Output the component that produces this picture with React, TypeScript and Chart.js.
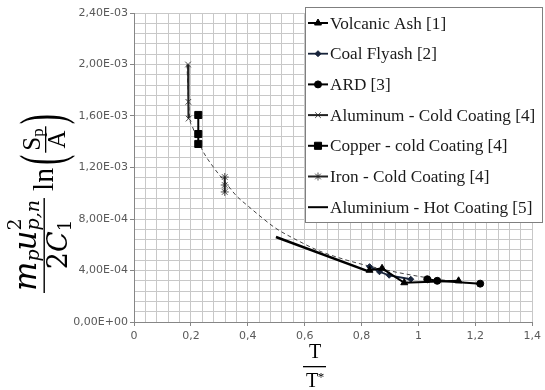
import React, { useEffect, useRef } from 'react';
import { Chart, registerables } from 'chart.js';
import { drawPoint } from 'chart.js/helpers';

Chart.register(...registerables);

// ---- data ----
const volcanicX = [0.828, 0.872, 0.950, 1.141];
const volcanicY = [4.02e-4, 4.17e-4, 3.05e-4, 3.2e-4];

const coalX = [0.828, 0.863, 0.897, 0.973];
const coalY = [4.3e-4, 3.9e-4, 3.63e-4, 3.32e-4];

const ardX = [1.031, 1.066, 1.217];
const ardY = [3.32e-4, 3.2e-4, 2.98e-4];

const alColdX = [0.190, 0.191, 0.192];
const alColdY = [2.0e-3, 1.71e-3, 1.58e-3];

const cuColdX = [0.226, 0.226, 0.226];
const cuColdY = [1.608e-3, 1.46e-3, 1.383e-3];

const feColdX = [0.319, 0.319, 0.319];
const feColdY = [1.126e-3, 1.064e-3, 1.01e-3];

const alHotX = [0.499, 0.822];
const alHotY = [6.6e-4, 3.95e-4];

const fitX = [0.186, 0.19, 0.195, 0.205, 0.226, 0.24, 0.28, 0.323, 0.36, 0.404, 0.45, 0.497, 0.578, 0.648, 0.741, 0.82, 0.9, 1.0, 1.1, 1.22];
const fitY = [2.0e-3, 1.8e-3, 1.6e-3, 1.52e-3, 1.41e-3, 1.336e-3, 1.2e-3, 1.08e-3, 9.8e-4, 8.95e-4, 8.1e-4, 7.3e-4, 6.3e-4, 5.55e-4, 4.85e-4, 4.38e-4, 3.97e-4, 3.55e-4, 3.22e-4, 2.92e-4];

const seriesLabels = [
  'Volcanic Ash [1]',
  'Coal Flyash [2]',
  'ARD [3]',
  'Aluminum - Cold Coating [4]',
  'Copper - cold Coating [4]',
  'Iron - Cold Coating [4]',
  'Aluminium - Hot Coating [5]',
];

const xTickLabels = ['0', '0,2', '0,4', '0,6', '0,8', '1', '1,2', '1,4'];
const yTickLabels = ['0,00E+00', '4,00E-04', '8,00E-04', '1,20E-03', '1,60E-03', '2,00E-03', '2,40E-03'];

const X_MAJOR = 0.2;
const Y_MAJOR = 4e-4;

const pts = (xs: number[], ys: number[]) => xs.map((x, i) => ({ x, y: ys[i] }));
const majorIndex = (v: number, step: number) => {
  const r = v / step;
  const k = Math.round(r);
  return Math.abs(r - k) < 1e-6 ? k : -1;
};

const SERIF = '"Liberation Serif", "DejaVu Serif", serif';
const MATH = '"DejaVu Serif", serif';

const drawRot = (ctx: CanvasRenderingContext2D, text: string, font: string, y: number, x: number) => {
  ctx.save();
  ctx.font = font;
  const w = ctx.measureText(text).width;
  ctx.translate(x, y);
  ctx.rotate(-Math.PI / 2);
  ctx.textAlign = 'left';
  ctx.textBaseline = 'alphabetic';
  ctx.fillText(text, 0, 0);
  ctx.restore();
  return w;
};

const measure = (ctx: CanvasRenderingContext2D, text: string, font: string) => {
  ctx.save();
  ctx.font = font;
  const w = ctx.measureText(text).width;
  ctx.restore();
  return w;
};

const titlesPlugin = {
  id: 'titles',
  afterDraw(chart: any) {
    const ctx: CanvasRenderingContext2D = chart.ctx;
    ctx.save();
    ctx.fillStyle = '#000';
    const IT = (s: number) => `italic ${s}px ${MATH}`;
    const UPM = (s: number) => `${s}px ${MATH}`;
    const UP = (s: number) => `${s}px ${SERIF}`;
    const BAR = 44;
    // ---- y axis title (rotated) ----
    const y0 = 291;
    let y = y0;
    y -= drawRot(ctx, 'm', IT(31), y, 36);
    y -= drawRot(ctx, 'p', IT(19), y, 39) - 1;
    y -= drawRot(ctx, 'u', IT(31), y, 36);
    const wSup = drawRot(ctx, '2', UPM(19), y, 21);
    const wSub = drawRot(ctx, 'p,n', IT(19), y, 39);
    y -= Math.max(wSup, wSub);
    const numEnd = y - 2;
    // denominator
    const w2 = measure(ctx, '2', UPM(27));
    const wC = measure(ctx, 'C', IT(27));
    const w1 = measure(ctx, '1', UPM(18));
    const denW = w2 + wC + w1;
    let dy = (y0 + numEnd) / 2 + denW / 2;
    dy -= drawRot(ctx, '2', UPM(27), dy, 67);
    dy -= drawRot(ctx, 'C', IT(27), dy, 67);
    drawRot(ctx, '1', UPM(18), dy, 71);
    // fraction bar
    ctx.fillRect(BAR - 0.5, numEnd, 1.4, y0 + 2 - numEnd);
    // ln
    let ly = numEnd - 7;
    ly -= drawRot(ctx, 'ln', UP(30), ly, 53);
    ly -= 3;
    // parentheses stretched
    const parenFont = UP(30);
    const wp = measure(ctx, '(', parenFont);
    const drawParen = (ch: string, yy: number) => {
      ctx.save();
      ctx.font = parenFont;
      ctx.translate(BAR, yy);
      ctx.rotate(-Math.PI / 2);
      ctx.scale(1, 2.05);
      ctx.textBaseline = 'middle';
      ctx.fillText(ch, 0, 1);
      ctx.restore();
    };
    drawParen('(', ly);
    ly -= wp + 2;
    // inner fraction S_p / A
    const wS = measure(ctx, 'S', UP(25));
    const wp2 = measure(ctx, 'p', UP(17));
    const wA = measure(ctx, 'A', UP(25));
    const innerW = Math.max(wS + wp2, wA) + 4;
    const cyIn = ly - innerW / 2;
    let sy = cyIn + (wS + wp2) / 2;
    sy -= drawRot(ctx, 'S', UP(25), sy, 40);
    drawRot(ctx, 'p', UP(17), sy, 43);
    drawRot(ctx, 'A', UP(25), cyIn + wA / 2, 65);
    ctx.fillRect(BAR + 1, ly - innerW, 1.3, innerW);
    ly -= innerW + 2;
    drawParen(')', ly);

    // ---- x axis title ----
    ctx.textAlign = 'center';
    ctx.textBaseline = 'alphabetic';
    ctx.font = UP(20);
    const cx = 315;
    ctx.fillText('T', cx, 358);
    ctx.fillRect(303, 366, 23, 1.3);
    ctx.fillText('T', cx - 3, 387);
    ctx.font = UP(13);
    ctx.fillText('*', cx + 6, 381);
    ctx.restore();

    // ---- legend ----
    ctx.save();
    const bx = 305.5, by = 7.5, bw = 237, bh = 215;
    ctx.fillStyle = '#fff';
    ctx.fillRect(bx, by, bw, bh);
    ctx.strokeStyle = '#7f7f7f';
    ctx.lineWidth = 1;
    ctx.strokeRect(bx, by, bw, bh);
    ctx.font = `17.2px ${SERIF}`;
    ctx.textBaseline = 'middle';
    ctx.textAlign = 'left';
    const ds = chart.data.datasets;
    seriesLabels.forEach((lab, i) => {
      const d = ds[i];
      const yy = 23 + i * 30.7;
      ctx.strokeStyle = d.borderColor;
      ctx.lineWidth = Math.min(d.borderWidth, 2);
      ctx.setLineDash([]);
      ctx.beginPath();
      ctx.moveTo(308, yy);
      ctx.lineTo(328, yy);
      ctx.stroke();
      if (d.pointStyle && d.pointRadius > 0) {
        ctx.fillStyle = d.pointBackgroundColor;
        ctx.strokeStyle = d.pointBorderColor;
        ctx.lineWidth = d.pointBorderWidth;
        drawPoint(ctx, { pointStyle: d.pointStyle, rotation: 0, radius: d.pointRadius, borderWidth: d.pointBorderWidth }, 318, yy);
      }
      ctx.fillStyle = '#1a1a1a';
      ctx.fillText(lab, 330, yy + 1);
    });
    ctx.restore();
  },
};

export default function App() {
  const ref = useRef<HTMLCanvasElement | null>(null);
  useEffect(() => {
    document.body.style.margin = '0';
    const canvas = ref.current;
    if (!canvas) return;
    const mk = (i: number, xs: number[], ys: number[], style: any, radius: number, color: string, bw: number, pbw: number) => ({
      label: seriesLabels[i],
      data: pts(xs, ys),
      showLine: true,
      borderColor: color,
      backgroundColor: color,
      borderWidth: bw,
      pointStyle: style,
      pointRadius: radius,
      pointBackgroundColor: color,
      pointBorderColor: color,
      pointBorderWidth: pbw,
      pointHoverRadius: radius,
    });
    const datasets: any[] = [
      mk(0, volcanicX, volcanicY, 'triangle', 4, '#000', 2, 1),
      mk(1, coalX, coalY, 'rectRot', 3, '#17233a', 1.8, 1),
      mk(2, ardX, ardY, 'circle', 3.5, '#000', 2, 1),
      mk(3, alColdX, alColdY, 'crossRot', 4, '#222', 2, 0.8),
      mk(4, cuColdX, cuColdY, 'rect', 5, '#000', 2, 1),
      mk(5, feColdX, feColdY, 'star', 4, '#222', 2, 0.8),
      { ...mk(6, alHotX, alHotY, false, 0, '#000', 2.5, 0), pointRadius: 0 },
      {
        label: 'fit',
        data: pts(fitX, fitY),
        showLine: true,
        borderColor: '#444',
        borderWidth: 1,
        borderDash: [4, 3],
        pointRadius: 0,
        cubicInterpolationMode: 'monotone',
      },
    ];
    const tickColorX = (c: any) => (majorIndex(c.tick ? c.tick.value : 0, X_MAJOR) >= 0 ? '#868686' : 'rgba(0,0,0,0)');
    const tickColorY = (c: any) => (majorIndex(c.tick ? c.tick.value : 0, Y_MAJOR) >= 0 ? '#868686' : 'rgba(0,0,0,0)');
    const chart = new Chart(canvas, {
      type: 'scatter',
      data: { datasets },
      options: {
        animation: false,
        responsive: false,
        devicePixelRatio: 1,
        layout: { padding: { left: 0, top: 13, right: 9, bottom: 0 } },
        plugins: { legend: { display: false }, tooltip: { enabled: false } },
        events: [],
        scales: {
          x: {
            type: 'linear',
            min: 0,
            max: 1.4,
            afterFit: (s: any) => { s.height = 68; },
            ticks: {
              stepSize: 0.04,
              autoSkip: false,
              maxRotation: 0,
              minRotation: 0,
              padding: 4,
              color: '#595959',
              font: { family: '"DejaVu Sans", sans-serif', size: 11 },
              callback: (v: any) => {
                const k = majorIndex(Number(v), X_MAJOR);
                return k >= 0 ? xTickLabels[k] : '';
              },
            },
            grid: { color: '#c8c8c8', lineWidth: 1, tickLength: 4, tickColor: tickColorX },
            border: { display: true, color: '#868686', width: 1 },
          },
          y: {
            type: 'linear',
            min: 0,
            max: 2.4e-3,
            afterFit: (s: any) => { s.width = 134; },
            ticks: {
              stepSize: 8e-5,
              autoSkip: false,
              padding: 2,
              color: '#595959',
              font: { family: '"DejaVu Sans", sans-serif', size: 11 },
              callback: (v: any) => {
                const k = majorIndex(Number(v), Y_MAJOR);
                return k >= 0 ? yTickLabels[k] : '';
              },
            },
            grid: { color: '#c8c8c8', lineWidth: 1, tickLength: 4, tickColor: tickColorY },
            border: { display: true, color: '#868686', width: 1 },
          },
        },
      } as any,
      plugins: [titlesPlugin],
    });
    return () => chart.destroy();
  }, []);
  return (
    <div style={{ position: 'fixed', left: 0, top: 0, width: 545, height: 390, background: '#fff' }}>
      <canvas ref={ref} width={545} height={390} style={{ display: 'block', width: 545, height: 390 }} />
    </div>
  );
}
